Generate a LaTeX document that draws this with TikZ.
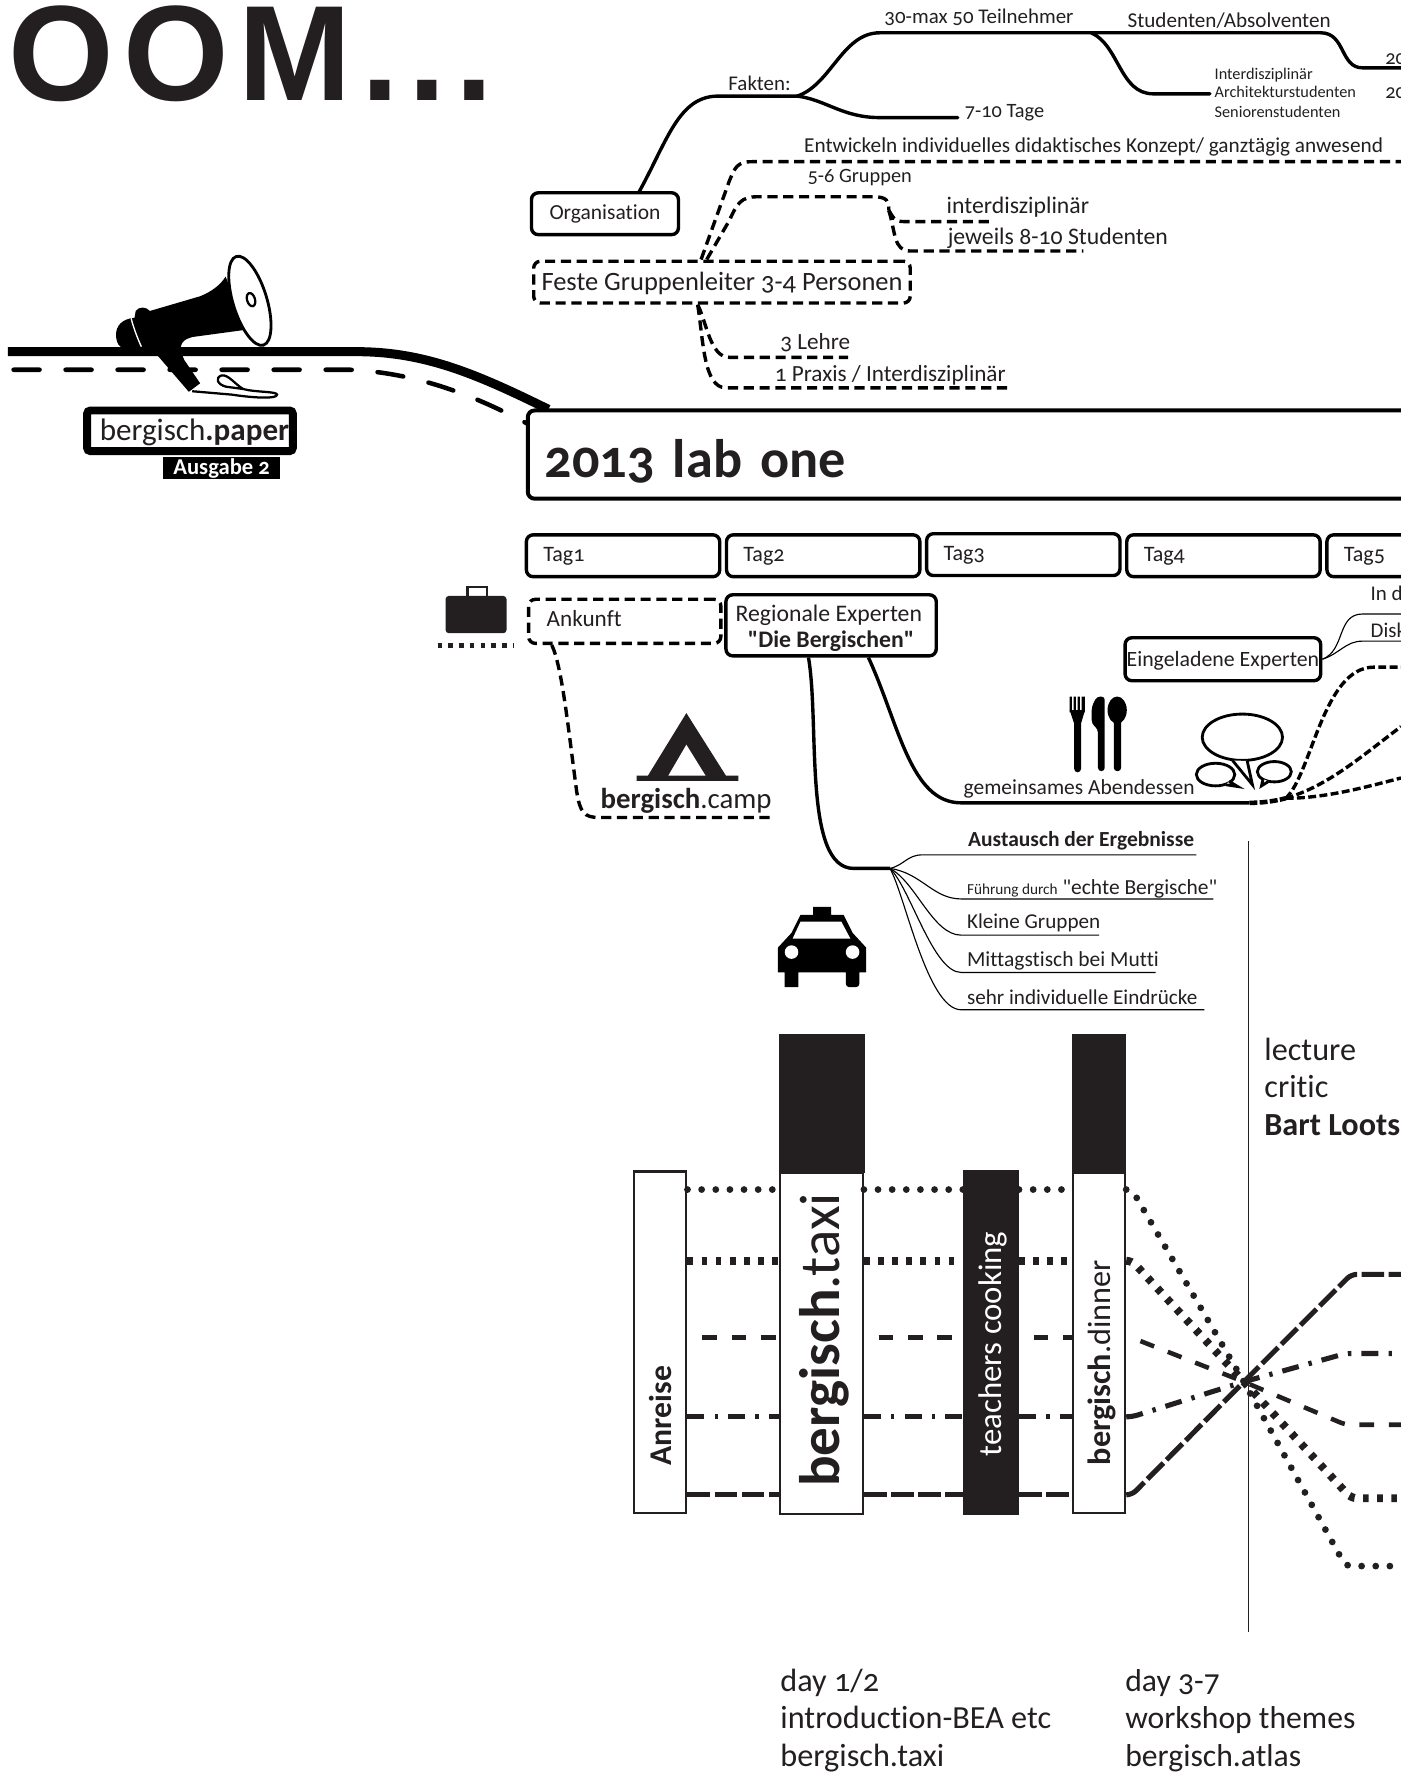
\documentclass[tikz,border=0pt]{standalone}
\usepackage{fontspec}
\setmainfont[Numbers=OldStyle,Ligatures=NoCommon]{Carlito}
\newfontfamily\quotefont[Numbers=OldStyle,Ligatures=NoCommon]{Carlito}
\newfontfamily\headfont[LetterSpace=7]{Liberation Sans}
\newcommand{\fsz}[1]{\fontsize{#1}{#1}\selectfont}
\newcommand{\strq}{{\quotefont"}}
\definecolor{ink}{HTML}{231F20}
\tikzset{
  lbl/.style={anchor=base west,inner sep=0pt,text=ink},
  roundbox/.style={draw=black,fill=white,line width=3pt,rounded corners=6pt,inner sep=0pt,text=ink},
  dashbox/.style={roundbox,dash pattern=on 9pt off 5pt},
  tagbox/.style={roundbox,anchor=west,minimum width=171pt,minimum height=37pt,text width=141pt,text height=11pt,text depth=0pt,align=left,font=\fsz{19.5}},
  branch/.style={line width=3pt,line cap=round},
  dashbranch/.style={line width=3pt,dash pattern=on 9pt off 5pt},
  thinbranch/.style={line width=1pt},
  bubble/.style={draw=black,line width=2.5pt},
  column/.style={draw=ink,fill=white,line width=2pt,inner sep=0pt},
  blackbar/.style={fill=ink,inner sep=0pt},
  sidetext/.style={rotate=90,anchor=base west,inner sep=0pt},
  rowdots/.style={draw=ink,line width=6pt,line cap=round,dash pattern=on 0pt off 12.5pt},
  rowbars/.style={draw=ink,line width=7pt,dash pattern=on 5pt off 7.5pt},
  rowdash/.style={draw=ink,line width=4pt,dash pattern=on 13pt off 13pt,dash phase=13pt},
  rowdashdot/.style={draw=ink,line width=4.5pt,dash pattern=on 15pt off 9pt on 3pt off 9pt},
  rowlong/.style={draw=ink,line width=4.5pt,dash pattern=on 20pt off 4pt}
}
\begin{document}
\begin{tikzpicture}[x=1pt,y=-1pt]
\useasboundingbox (0,0) rectangle (1239,1568);
\node[lbl,text=ink,font=\headfont\bfseries\fsz{120}] (headline) at (7.5,89) {OOM...};

% bergisch.paper
\node[roundbox,line width=7pt,rounded corners=3pt,minimum width=182pt,minimum height=36pt,text height=18pt,text depth=0pt,font=\fsz{27.5}] (paper) at (168,381) {\hspace*{8pt}bergisch\textbf{.paper}};
\node[fill=black,text=white,inner sep=0pt,minimum width=103pt,minimum height=20pt,font=\bfseries\fsz{20}] (ausgabe) at (196,414) {Ausgabe 2};
\coordinate (roadstart) at (7,311);
\coordinate (dashstart) at (12,327);
\coordinate (labtop) at (485,362);
\coordinate (labside) at (467,375);
\draw[line width=8pt] (roadstart) -- (315,311) .. controls (375,311) and (420,330) .. (labtop);
\draw[line width=4pt,line cap=round,dash pattern=on 23pt off 23pt] (dashstart) -- (310,327) .. controls (370,330) and (420,350) .. (labside);
\fill[black] (199.5,244.6) .. controls (195,252) and (187,258) .. (177,262) -- (132.6,275) .. controls (129,271) and (123,271) .. (120,275) -- (119,281)
  .. controls (108,282) and (102.6,288) .. (102.6,296) .. controls (102.6,301) and (104,305) .. (107,307) -- (125,308) -- (139,314) -- (167,346.5) -- (177,339) -- (163,318.4)
  .. controls (160,312) and (159,306) .. (161,303.6) .. controls (163,300) and (167,299) .. (170.5,298) -- (214.7,292) -- (222,300) -- cycle;
\draw[white,line width=1.2pt] (116,281.5) .. controls (118,290) and (122,300) .. (125,306.6);
\draw[black,fill=white,line width=2.5pt] (221,266) ellipse [x radius=41,y radius=15,rotate=-73];
\draw[black,fill=white,line width=2pt] (222,265) ellipse [x radius=6,y radius=3.5,rotate=-73];
\draw[black,line width=2pt] (170,346) -- (205,349) .. controls (225,352) and (245,353) .. (245,349) .. controls (245,346) and (225,347) .. (215,344)
  .. controls (208,340) and (202,331) .. (196,332) .. controls (190,334) and (192,340) .. (200,342) -- (215,344);

% Organisation
\node[roundbox,minimum width=130pt,minimum height=37pt,text height=11pt,text depth=0pt,font=\fsz{19}] (orga) at (535,189) {Organisation};
\coordinate (orgafoot) at (565,170);
\coordinate (fakten) at (705,85);
\coordinate (faktenup) at (965,29);
\node[lbl,font=\fsz{18.5}] (faktenlabel) at (644,80) {Fakten:};
\node[lbl,font=\fsz{18.5}] (teilnehmer) at (782,21) {30-max 50 Teilnehmer};
\node[lbl,font=\fsz{18}] (tage) at (853,104) {7-10 Tage};
\node[lbl,font=\fsz{18.7}] (studenten) at (997,24) {Studenten/Absolventen};
\node[lbl,font=\fsz{14.4}] (interdis) at (1074,70) {Interdisziplinär};
\node[lbl,font=\fsz{14.4}] (archi) at (1074,86.5) {Architekturstudenten};
\node[lbl,font=\fsz{14.4}] (senior) at (1074,103.5) {Seniorenstudenten};
\node[lbl,font=\fsz{18}] (jahra) at (1225,57) {20};
\node[lbl,font=\fsz{18}] (jahrb) at (1225,87) {20};
\draw[branch] (orgafoot) .. controls (590,125) and (600,85) .. (635,85) -- (fakten);
\draw[branch] (fakten) .. controls (735,75) and (745,29) .. (778,29) -- (faktenup) -- (1168,29) .. controls (1190,29) and (1185,60) .. (1205,60) -- (1239,60);
\draw[branch] (fakten) .. controls (730,88) and (745,104) .. (778,104) -- (847,104);
\draw[branch] (faktenup) .. controls (990,40) and (990,83) .. (1020,83) -- (1070,83);

% Gruppenleiter
\node[dashbox,minimum width=333pt,minimum height=37pt,text height=14pt,text depth=0pt,font=\fsz{23.4}] (leiter) at (638.5,249.5) {Feste Gruppenleiter 3-4 Personen};
\node[lbl,font=\fsz{18.8}] (konzept) at (711,135) {Entwickeln individuelles didaktisches Konzept/ ganztägig anwesend};
\node[lbl,font=\fsz{18}] (gruppen) at (714,161) {5-6 Gruppen};
\node[lbl,font=\fsz{21}] (interdisziplinaer) at (837,189) {interdisziplinär};
\node[lbl,font=\fsz{21}] (jeweils) at (838,216) {jeweils 8-10 Studenten};
\node[lbl,font=\fsz{20.5}] (lehre) at (690,309) {3 Lehre};
\node[lbl,font=\fsz{20.5}] (praxis) at (685,337) {1 Praxis / Interdisziplinär};
\coordinate (gruppenfork) at (786,186);
\draw[dashbranch] (leiter.north -| 620,0) -- (645,160) .. controls (650,148) and (652,143) .. (665,143) -- (1239,143);
\draw[dashbranch] (leiter.north -| 625,0) -- (645,195) .. controls (652,180) and (655,174) .. (670,174) -- (772,174) .. controls (785,174) and (786,178) .. (gruppenfork);
\draw[dashbranch] (gruppenfork) .. controls (790,192) and (790,196) .. (800,196) -- (875,196);
\draw[dashbranch] (gruppenfork) .. controls (792,205) and (790,222) .. (805,222) -- (958,222);
\draw[dashbranch] (leiter.south -| 617,0) .. controls (625,285) and (628,316) .. (645,316) -- (750,316);
\draw[dashbranch] (leiter.south -| 617,0) .. controls (622,300) and (622,343) .. (642,343) -- (892,343);

% lab one
\node[roundbox,line width=3.5pt,anchor=west,minimum width=820pt,minimum height=78pt,text width=790pt,text height=40pt,text depth=0pt,align=left,font=\bfseries\fsz{48}] (labone) at (465,402) {2013 lab one};
\foreach \tagnum/\tagx/\tagy in {1/464/491.5,2/641/491.5,3/818/490.5,4/995/491.5,5/1172/491.5}
  \node[tagbox] (tag\tagnum) at (\tagx,\tagy) {Tag\tagnum};

% Tag1
\node[dashbox,anchor=west,minimum width=170pt,minimum height=39pt,text width=138pt,text height=9pt,text depth=0pt,align=left,font=\fsz{20.5}] (ankunft) at (466,549.5) {Ankunft};
\fill[ink,rounded corners=3pt] (394,527) rectangle (448,560);
\draw[ink,line width=2pt] (413.5,527) -- (413.5,519) -- (430.5,519) -- (430.5,527);
\coordinate (koffera) at (387,571);
\coordinate (kofferb) at (455,571);
\draw[ink,line width=4pt,dash pattern=on 4pt off 5.5pt] (koffera) -- (kofferb);
\node[lbl,font=\fsz{25.5}] (camp) at (531,715) {\textbf{bergisch}.camp};
\draw[dashbranch] (ankunft.south -| 488,0) .. controls (497,590) and (502,640) .. (510,700) .. controls (513,718) and (516,723) .. (530,723) -- (682,723);
\fill[ink] (607,630.6) -- (642,686) -- (653,686) -- (653,690.5) -- (563,690.5) -- (563,686) -- (573,686) -- cycle;
\fill[white] (607,658.6) -- (624,686) -- (591,686) -- cycle;

% Tag2
\node[roundbox,minimum width=186pt,minimum height=54pt,align=center,font=\fsz{21}] (regional) at (735,553) {\rule{0pt}{20pt}\hspace*{-4pt}Regionale Experten\\[2pt]\textbf{\strq Die Bergischen\strq}};
\coordinate (abend) at (1105,710);
\coordinate (fuehrung) at (787,768);
\node[lbl,font=\fsz{19}] (abendessen) at (852,703) {gemeinsames Abendessen};
\draw[line width=3pt] (regional.south -| 768,0) .. controls (795,640) and (805,710) .. (850,710) -- (abend);
\draw[line width=3pt] (regional.south -| 715,0) .. controls (725,640) and (710,768) .. (755,768) -- (fuehrung);
\node[lbl,font=\bfseries\fsz{19}] (austausch) at (856,749) {Austausch der Ergebnisse};
\node[lbl,font=\fsz{19}] (echte) at (855,791) {{\fsz{13.5}Führung durch} \strq echte Bergische\strq};
\node[lbl,font=\fsz{18.7}] (kleine) at (855,821) {Kleine Gruppen};
\node[lbl,font=\fsz{19}] (mittag) at (855,855) {Mittagstisch bei Mutti};
\node[lbl,font=\fsz{18.7}] (eindruecke) at (855,888) {sehr individuelle Eindrücke};
\draw[thinbranch] (fuehrung) .. controls (800,765) and (802,756) .. (816,756) -- (1058,756);
\draw[thinbranch] (fuehrung) .. controls (815,772) and (825,795) .. (850,795) -- (1073,795);
\draw[thinbranch] (fuehrung) .. controls (810,780) and (825,827) .. (850,827) -- (972,827);
\draw[thinbranch] (fuehrung) .. controls (805,785) and (825,860) .. (850,860) -- (1022,860);
\draw[thinbranch] (fuehrung) .. controls (800,790) and (820,893) .. (850,893) -- (1065,893);
% taxi
\fill[black] (719,809) -- (719,802) -- (735,802) -- (735,809) -- (746,809) -- (754,825) -- (766,838) -- (766,860) -- (760,860) -- (760,869) [rounded corners=3pt] -- (760,873) -- (748,873) [sharp corners] -- (748,860)
  -- (706,860) -- (706,873) -- (694,873) -- (694,860) -- (688,860) -- (688,838) -- (700,825) -- (708,809) -- cycle;
\fill[white] (708,815) -- (744,815) -- (752,830) -- (701,830) -- cycle;
\fill[white] (700,842) circle (6pt) (754,842) circle (6pt);

% Tag4
\node[roundbox,minimum width=173pt,minimum height=38pt,text height=12pt,text depth=0pt,font=\fsz{19.3}] (eingeladen) at (1081.5,583) {Eingeladene Experten};
\node[lbl,font=\fsz{18.5}] (ind) at (1212,531) {In d};
\node[lbl,font=\fsz{18.5}] (disk) at (1212,564) {Disk};
\coordinate (fanout) at (1137,706);
\draw[line width=1pt] (eingeladen.east) .. controls (1190,575) and (1182,543) .. (1205,543) -- (1239,543);
\draw[line width=1pt] (eingeladen.east) .. controls (1185,578) and (1190,567) .. (1205,567) -- (1239,567);
\draw[line width=4pt,dash pattern=on 7pt off 2pt] (abend) .. controls (1115,710) and (1125,709) .. (fanout);
\draw[line width=3pt,dash pattern=on 7pt off 3pt] (fanout) .. controls (1160,685) and (1170,590) .. (1215,590) -- (1239,590);
\draw[line width=3pt,dash pattern=on 7pt off 3pt] (fanout) .. controls (1175,695) and (1205,668) .. (1239,642.6);
\draw[line width=3pt,dash pattern=on 7pt off 3pt] (fanout) .. controls (1170,706) and (1205,697) .. (1239,688);
% Besteck
\fill[black] (946,616) rectangle (948,630) (949.5,616) rectangle (951.5,630) (953,616) rectangle (955,630) (956.5,616) rectangle (959.5,630);
\fill[black] (946,628) -- (959.5,628) -- (956,640) -- (956,680) arc[start angle=0,end angle=180,radius=3] -- (950,640) -- cycle;
\fill[black,rounded corners=3pt] (970,616) -- (977,616) -- (977,682) -- (971,682) -- (971,645) -- (965.5,640) -- (965.5,625) -- cycle;
\fill[black] (988,628) ellipse [x radius=8.5,y radius=12];
\fill[black,rounded corners=3pt] (985,635) rectangle (991.5,682);
\draw[bubble] (1098.7,652) ellipse [x radius=35.5,y radius=20.5];
\draw[bubble] (1075,685) ellipse [x radius=17,y radius=10];
\draw[bubble] (1127,682.5) ellipse [x radius=15,y radius=9];
\draw[bubble,fill=white] (1090,672.5) -- (1107.6,694) -- (1103,673);
\draw[bubble,fill=white] (1087,691) -- (1094.6,695.6) -- (1084,694);
\draw[bubble,fill=white] (1117,689) -- (1115.6,695) -- (1122,691);

% Zeitachse
\coordinate (axistop) at (1104,744);
\coordinate (axisfoot) at (1104,1443);
\draw[ink,line width=1.5pt] (axistop) -- (axisfoot);
\node[lbl,font=\fsz{28.5}] (lecture) at (1118,938) {lecture};
\node[lbl,font=\fsz{28.5}] (critic) at (1118,971) {critic};
\node[lbl,font=\bfseries\fsz{28.5}] (bart) at (1118,1004) {Bart Loots};

\node[blackbar,minimum width=76pt,minimum height=123pt] (taxibar) at (727,975.5) {};
\node[blackbar,minimum width=48pt,minimum height=123pt] (dinnerbar) at (972,975.5) {};
\node[column,minimum width=46pt,minimum height=302pt] (anreise) at (584,1187) {};
\node[column,minimum width=73pt,minimum height=302pt] (taxi) at (726.5,1188) {};
\node[blackbar,minimum width=49pt,minimum height=305pt] (cooking) at (876.5,1187.5) {};
\node[column,minimum width=46pt,minimum height=301pt] (dinner) at (972,1187.5) {};
\node[sidetext,text=ink,font=\bfseries\fsz{28}] (anreisetext) at (594,1296) {Anreise};
\node[sidetext,text=ink,font=\fsz{50.5}] (taxilabel) at (742,1315) {\textbf{bergisch}.taxi};
\node[sidetext,text=white,font=\fsz{29}] (cookingtext) at (886,1288) {teachers cooking};
\node[sidetext,text=ink,font=\fsz{28.5}] (dinnertext) at (982,1296) {\textbf{bergisch}.dinner};
\coordinate (hub) at (1100,1222);
\foreach \rowy/\rowend/\rowx/\rowsty in {1052/1385/1190/rowdots,1115/1325/1195/rowbars,1183/1260/1190/rowdash,1253/1197/1190/rowdashdot,1322/1127/1195/rowlong} {
  \draw[\rowsty] (anreise.east |- 0,\rowy) -- (taxi.west |- 0,\rowy);
  \draw[\rowsty] (taxi.east |- 0,\rowy) -- (cooking.west |- 0,\rowy);
  \draw[\rowsty] (cooking.east |- 0,\rowy) -- (dinner.west |- 0,\rowy);
  \draw[\rowsty,rounded corners=5pt] (dinner.east |- 0,\rowy) -- (1001,\rowy) -- (hub) -- (\rowx,\rowend) -- (1239,\rowend);
}
\node[lbl,font=\fsz{28.5}] (daya) at (690,1496) {day 1/2};
\node[lbl,font=\fsz{28.5}] (intro) at (690,1529) {introduction-BEA etc};
\node[lbl,font=\fsz{28.5}] (taxitext) at (690,1562) {bergisch.taxi};
\node[lbl,font=\fsz{28}] (dayb) at (995,1496) {day 3-7};
\node[lbl,font=\fsz{28}] (themes) at (995,1529) {workshop themes};
\node[lbl,font=\fsz{28}] (atlas) at (995,1562) {bergisch.atlas};
\end{tikzpicture}
\end{document}
